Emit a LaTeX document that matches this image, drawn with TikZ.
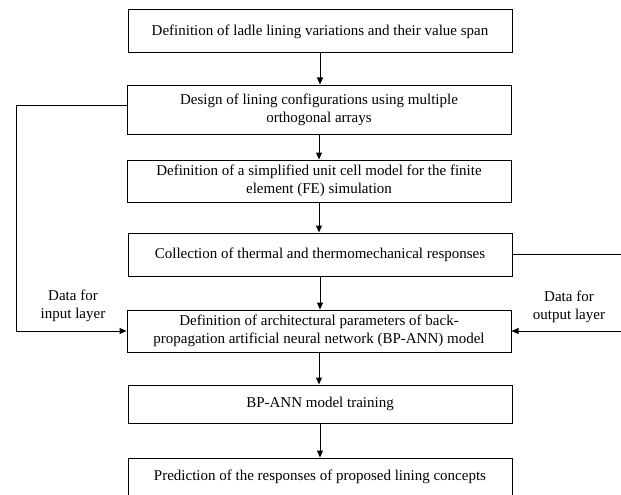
\documentclass[tikz,border=0pt]{standalone}
\usepackage{fontspec}
\setmainfont{Liberation Serif}
\usetikzlibrary{arrows.meta,positioning}

\begin{document}
\begin{tikzpicture}[x=1pt,y=-1pt,>={Triangle[length=7pt,width=6pt]},
  line width=1pt,
  stepbox/.style={draw,minimum width=384pt,inner sep=2pt,align=center,
    font=\fontsize{15}{18}\selectfont},
  note/.style={align=center,font=\fontsize{15}{18}\selectfont}]
  \useasboundingbox (0,0) rectangle (621,495);

  % process boxes
  \node[stepbox,minimum height=43pt] (span) at (320,31.5)
    {Definition of ladle lining variations and their value span};
  \node[stepbox,minimum height=49pt] (design) at (319,109.5)
    {Design of lining configurations using multiple\\orthogonal arrays};
  \node[stepbox,minimum height=42pt] (unit) at (319,181)
    {Definition of a simplified unit cell model for the finite\\
     element (FE) simulation};
  \node[stepbox,minimum height=43pt] (collect) at (320,254.5)
    {Collection of thermal and thermomechanical responses};
  \node[stepbox,minimum height=42pt] (arch) at (319,331)
    {Definition of architectural parameters of back-\\
     propagation artificial neural network (BP-ANN) model};
  \node[stepbox,minimum height=38pt] (train) at (320,404)
    {BP-ANN model training};
  \node[stepbox,minimum height=38pt] (predict) at (320,477)
    {Prediction of the responses of proposed lining concepts};

  % main chain
  \draw[->] (span) -- (span |- design.north);
  \draw[->] (design) -- (design |- unit.north);
  \draw[->] (unit) -- (unit |- collect.north);
  \draw[->] (collect) -- (collect |- arch.north);
  \draw[->] (arch) -- (arch |- train.north);
  \draw[->] (train) -- (train |- predict.north);

  % data feeds into the network
  \coordinate (inTop) at (16,105);
  \coordinate (inBot) at (16,331);
  \coordinate (outTop) at (623,254.5);
  \coordinate (outBot) at (623,331);
  \draw[->] ([yshift=4.5pt]design.west) -- (inTop) -- (inBot) -- (arch.west);
  \draw[->] (collect.east) -- (outTop) -- (outBot) -- (arch.east);

  \node[note] (inLab) at (73,306) {Data for\\input layer};
  \node[note] (outLab) at (569,307) {Data for\\output layer};
\end{tikzpicture}
\end{document}
